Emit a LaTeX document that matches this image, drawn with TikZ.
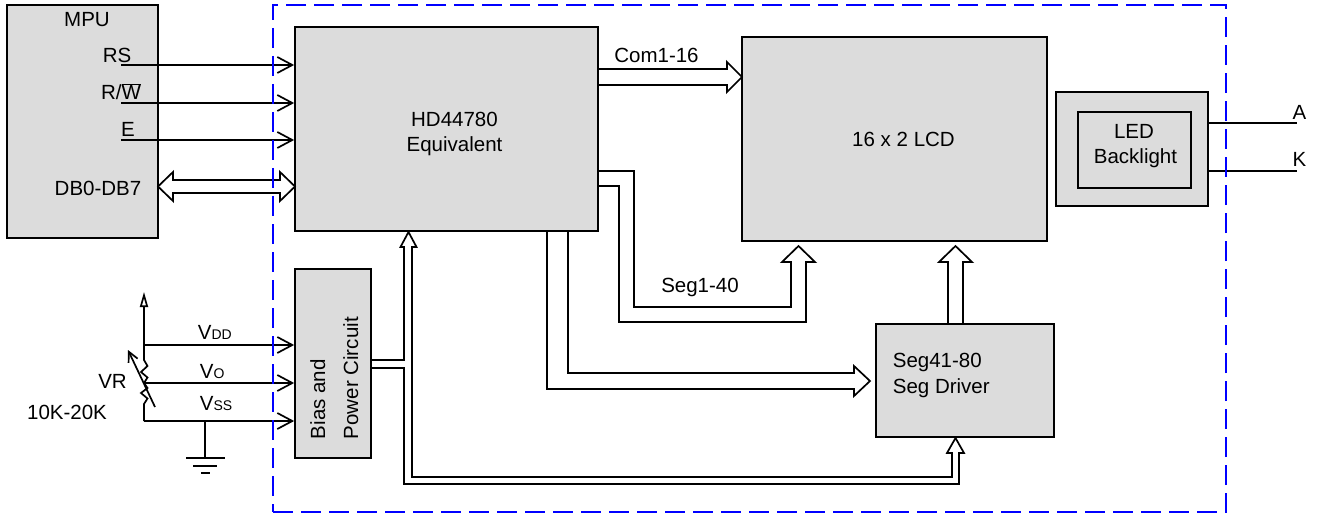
\documentclass[tikz,border=0pt]{standalone}
\usepackage{fontspec}
\setmainfont{Liberation Sans}
\usetikzlibrary{arrows.meta}
\definecolor{boxgray}{RGB}{220,220,220}
\begin{document}
\begin{tikzpicture}[x=1pt,y=-1pt,
  line width=1.7pt,
  box/.style={draw=black, fill=boxgray, line width=1.7pt, inner sep=0pt},
  lbl/.style={inner sep=0pt, font=\fontsize{20.5}{25}\selectfont},
  sig/.style={-{Straight Barb[length=15pt,width=16pt]}},
  bus/.style={draw=black, line width=1.7pt, line join=miter},
  grpframe/.style={draw=blue, line width=1.8pt, dash pattern=on 20pt off 8pt, inner sep=0pt}
]
\useasboundingbox (0,0) rectangle (1318,516);

% ---------- boxes ----------
\node[box, minimum width=151, minimum height=233] (mpu) at (82.5,121.5) {};
\node[box, minimum width=303, minimum height=204] (hd) at (446.5,129) {};
\node[box, minimum width=305, minimum height=204] (lcd) at (894.5,139) {};
\node[box, minimum width=152, minimum height=114] (ledo) at (1132,149) {};
\node[box, minimum width=113, minimum height=76] (ledi) at (1134.5,150) {};
\node[box, minimum width=178, minimum height=113] (drv) at (965,380.5) {};
\node[box, minimum width=76, minimum height=189] (bias) at (333,363.5) {};

% ---------- texts ----------
\node[lbl, anchor=base] (mpuT) at (87,27) {MPU};
\node[lbl, anchor=base] (rsT) at (117,63) {RS};
\node[lbl, anchor=base] (rwT) at (121,100) {R/$\overline{\mbox{W}}$};
\node[lbl, anchor=base] (eT) at (128,137) {E};
\node[lbl, anchor=base] (dbT) at (98,196) {DB0-DB7};
\node[lbl, anchor=base] (hdT1) at (454.5,127) {HD44780};
\node[lbl, anchor=base] (hdT2) at (454.5,152) {Equivalent};
\node[lbl, anchor=base] (lcdT) at (903.5,146.7) {16 x 2 LCD};
\node[lbl, anchor=base] (ledT1) at (1134,138.3) {LED};
\node[lbl, anchor=base] (ledT2) at (1135.5,163.3) {Backlight};
\node[lbl, anchor=base west] (drvT1) at (892,367.7) {Seg41-80};
\node[lbl, anchor=base west] (drvT2) at (892,393.3) {Seg Driver};
\node[lbl, anchor=base] (comT) at (656.5,62.3) {Com1-16};
\node[lbl, anchor=base] (segT) at (700,292.7) {Seg1-40};
\node[lbl, anchor=base] (aT) at (1299.5,120) {A};
\node[lbl, anchor=base] (kT) at (1299.5,167) {K};
\node[lbl, anchor=base west, rotate=90] (biasT1) at (325,440) {Bias and};
\node[lbl, anchor=base west, rotate=90] (biasT2) at (358,440) {Power Circuit};
\node[lbl, anchor=base west] (vddT) at (197,339) {V{\fontsize{14}{14}\selectfont DD}};
\node[lbl, anchor=base west] (voT) at (199,378) {V{\fontsize{14}{14}\selectfont O}};
\node[lbl, anchor=base west] (vssT) at (199,410.7) {V{\fontsize{14}{14}\selectfont SS}};
\node[lbl, anchor=base] (vrT) at (112.5,388.3) {VR};
\node[lbl, anchor=base] (valT) at (67,419.3) {10K-20K};

% ---------- MPU signals ----------
\coordinate (rs0) at (121,65);
\coordinate (rw0) at (121,103);
\coordinate (e0) at (121,140);
\draw[sig] (rs0) -- (rs0 -| hd.west);
\draw[sig] (rw0) -- (rw0 -| hd.west);
\draw[sig] (e0) -- (e0 -| hd.west);

% DB0-DB7 double bus arrow
\draw[bus, fill=white] (158,186.5) -- (173,172) -- (173,180) -- (280,180) -- (280,172)
  -- (295,186.5) -- (280,201) -- (280,193) -- (173,193) -- (173,201) -- cycle;

% Com1-16 bus
\draw[bus] (598,69) -- (727,69) -- (727,62) -- (742,77) -- (727,92) -- (727,85) -- (598,85);

% Seg1-40 bus
\draw[bus] (598,171) -- (634,171) -- (634,307) -- (791,307) -- (791,262) -- (782,262)
  -- (798.5,246) -- (815,262) -- (806,262) -- (806,322) -- (619,322) -- (619,186) -- (598,186);

% Seg driver -> LCD bus
\draw[bus] (948,324) -- (948,262) -- (939,262) -- (955.5,246) -- (972,262) -- (963,262) -- (963,324);

% HD -> Seg driver bus
\draw[bus] (547,231) -- (547,389) -- (854,389) -- (854,396) -- (870,381) -- (854,366)
  -- (854,373) -- (568,373) -- (568,231);

% Bias outputs
\draw[bus] (371,360) -- (404,360) -- (404,247) -- (400.5,247) -- (408.5,232) -- (416.5,247)
  -- (412,247) -- (412,477) -- (952,477) -- (952,453) -- (947,453) -- (955.5,438)
  -- (964,453) -- (959,453) -- (959,484) -- (404,484) -- (404,368) -- (371,368);

% LED terminals
\coordinate (aEnd) at (1297,123);
\coordinate (kEnd) at (1297,171);
\draw (ledo.east |- aEnd) -- (aEnd);
\draw (ledo.east |- kEnd) -- (kEnd);

% ---------- potentiometer ----------
\coordinate (vddJ) at (144,345);
\coordinate (voJ) at (144,383);
\coordinate (vssJ) at (144,421);
\coordinate (ptop) at (144,292);
\draw[-{Triangle[open,length=15pt,width=8pt]}] (vddJ) -- (ptop);
\draw[line join=miter] (vddJ) -- (144,360) -- (147.5,366) -- (141,372) -- (147.5,377.5) -- (voJ)
  -- (147.5,388) -- (141,393) -- (147.5,398.5) -- (144,404) -- (vssJ);
\draw[-{Straight Barb[length=10pt,width=10pt]}] (155,407) -- (128,350);
\draw[sig] (vddJ) -- (vddJ -| bias.west);
\draw[sig] (voJ) -- (voJ -| bias.west);
\draw[sig] (vssJ) -- (vssJ -| bias.west);

% ground
\coordinate (gnd) at (205,421);
\draw (gnd) -- (205,458);
\draw (186,458) -- (225,458);
\draw (193,466) -- (217,466);
\draw (201,473) -- (210,473);

% ---------- dashed module frame ----------
\node[grpframe, minimum width=953, minimum height=507] (grp) at (749.5,258.5) {};
\end{tikzpicture}
\end{document}
